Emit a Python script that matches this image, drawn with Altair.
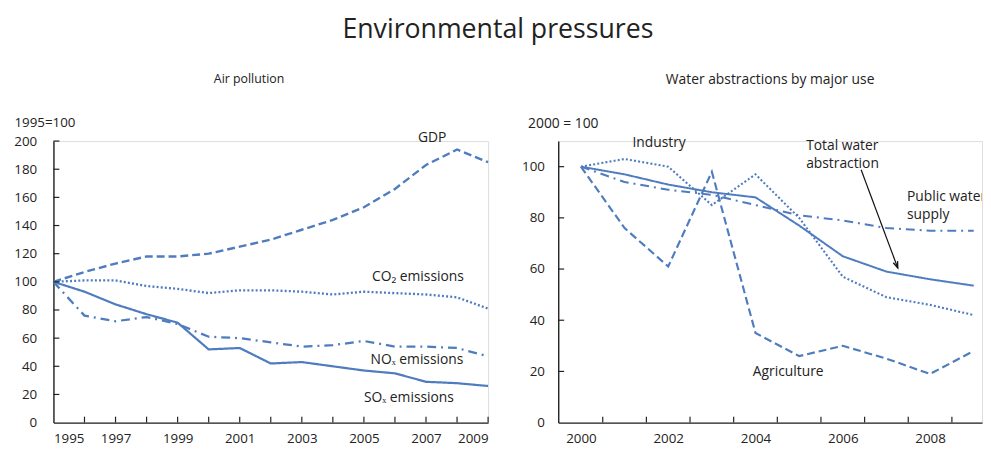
import altair as alt
import pandas as pd

# ---------------- data ----------------
air_years = list(range(1995, 2010))
gdp = [100, 107, 113, 118, 118, 120, 125, 130, 137, 144, 153, 166, 183, 194, 185]
co2 = [100, 101, 101, 97, 95, 92, 94, 94, 93, 91, 93, 92, 91, 89, 81]
nox = [100, 76, 72, 75, 70, 61, 60, 57, 54, 55, 58, 54, 54, 53, 47]
sox = [100, 93, 84, 77, 71, 52, 53, 42, 43, 40, 37, 35, 29, 28, 26]

water_years = list(range(2000, 2010))
total = [100, 97, 93, 90, 88, 77, 65, 59, 56, 53.5]
industry = [100, 103, 100, 85, 97, 80, 57, 49, 46, 42]
public = [100, 94, 91, 89, 85, 81, 79, 76, 75, 75]
agriculture = [100, 76, 61, 98, 35, 26, 30, 25, 19, 28]

air_series = ["GDP", "CO2", "NOx", "SOx"]
water_series = ["Agriculture", "Industry", "Public", "Total"]

left_x_ticks = list(range(1996, 2010))
left_x_labels = list(range(1995, 2010))
left_y_labels = [0, 20, 40, 60, 80, 100, 120, 140, 160, 180, 200]
left_y_ticks = [20, 40, 60, 80, 100, 120, 140, 160, 180, 200]
right_x_ticks = [2000.5, 2001.5, 2002.5, 2003.5, 2004.5, 2005.5, 2006.5, 2007.5, 2008.5]
right_x_labels = [2000, 2002, 2004, 2006, 2008]
right_y_labels = [0, 20, 40, 60, 80, 100]
right_y_ticks = [20, 40, 60, 80, 100]

# annotation labels
air_lab_text = ["GDP", "CO₂ emissions", "NOₓ emissions", "SOₓ emissions"]
air_lab_x = [2007.2, 2006.74, 2006.71, 2006.45]
air_lab_y = [202.5, 103.2, 44.2, 17.5]

water_lab_text = ["Industry", "Total  water", "abstraction", "Public water", "supply", "Agriculture"]
water_lab_x = [2001.79, 2005.16, 2005.16, 2007.47, 2007.47, 2004.75]
water_lab_y = [109.2, 107.9, 101.2, 88.2, 81.2, 19.6]
water_lab_group = ["c", "l", "l", "edge", "edge", "c"]

arrow_x = [2006.42, 2007.26]
arrow_y = [98.8, 60.4]

# ---------------- style ----------------
FONT = "Open Sans"
LINE = "#4f7cbf"
TXT = "#222222"
W1, W2, H = 440, 429, 285

air_df = pd.DataFrame({
    "year": air_years * 4,
    "value": gdp + co2 + nox + sox,
    "series": sum([[s] * len(air_years) for s in air_series], []),
})
water_df = pd.DataFrame({
    "year": water_years * 4,
    "value": agriculture + industry + public + total,
    "series": sum([[s] * len(water_years) for s in water_series], []),
})

dash_range = [[8, 4], [2, 2.2], [9, 5, 2, 5], [1, 0]]
width_range = [2.4, 2.0, 2.4, 2.6]


def ax(**kw):
    base = dict(title=None, grid=False, ticks=False, domainColor=TXT, domainWidth=1.4,
                labelFont=FONT, labelFontSize=13.5, labelColor=TXT, labelOverlap=False)
    base.update(kw)
    return alt.Axis(**base)


# ---------------- left panel ----------------
lx = alt.Scale(domain=[1995, 2009], nice=False, zero=False)
ly = alt.Scale(domain=[0, 200], nice=False)
lx_axis = ax(values=left_x_labels, format="d", labelPadding=9,
             labelExpr="datum.value % 2 == 1 ? datum.label : ''")
ly_axis = ax(values=left_y_labels, labelPadding=17,
             title="1995=100", titleAngle=0, titleX=-40, titleY=-15,
             titleAlign="left", titleBaseline="alphabetic", titleFont=FONT,
             titleFontSize=13.5, titleFontWeight="normal", titleColor=TXT)

left_lines = alt.Chart(air_df).mark_line(color=LINE).encode(
    x=alt.X("year:Q", scale=lx, axis=lx_axis),
    y=alt.Y("value:Q", scale=ly, axis=ly_axis),
    strokeDash=alt.StrokeDash("series:N", scale=alt.Scale(domain=air_series, range=dash_range), legend=None),
    strokeWidth=alt.StrokeWidth("series:N", scale=alt.Scale(domain=air_series, range=width_range), legend=None),
    detail="series:N",
)

left_xt = alt.Chart(pd.DataFrame({"t": left_x_ticks})).mark_rule(color=TXT, strokeWidth=1.2).encode(
    x=alt.X("t:Q", scale=lx, axis=lx_axis), y=alt.value(H), y2=alt.value(H - 6))
left_yt = alt.Chart(pd.DataFrame({"t": left_y_ticks})).mark_rule(color=TXT, strokeWidth=1.2).encode(
    y=alt.Y("t:Q", scale=ly, axis=ly_axis), x=alt.value(0), x2=alt.value(6))

left_labels = alt.Chart(pd.DataFrame({"text": air_lab_text, "x": air_lab_x, "y": air_lab_y})).mark_text(
    font=FONT, fontSize=14, color=TXT, align="center", baseline="middle").encode(
    x=alt.X("x:Q", scale=lx, axis=lx_axis), y=alt.Y("y:Q", scale=ly, axis=ly_axis), text="text:N")

left = alt.layer(left_lines, left_xt, left_yt, left_labels).properties(
    width=W1, height=H,
    title=alt.TitleParams("Air pollution", font=FONT, fontSize=12.5, fontWeight="normal",
                          color=TXT, anchor="middle", offset=30, dx=-22))

# ---------------- right panel ----------------
rx = alt.Scale(domain=[1999.48, 2009.19], nice=False, zero=False)
ry = alt.Scale(domain=[0, 110], nice=False)
rx_axis = ax(values=right_x_labels, format="d", labelPadding=9)
ry_axis = ax(values=right_y_labels, labelPadding=14,
             title="2000 = 100", titleAngle=0, titleX=-31, titleY=-14,
             titleAlign="left", titleBaseline="alphabetic", titleFont=FONT,
             titleFontSize=14, titleFontWeight="normal", titleColor=TXT)

right_lines = alt.Chart(water_df).mark_line(color=LINE).encode(
    x=alt.X("year:Q", scale=rx, axis=rx_axis),
    y=alt.Y("value:Q", scale=ry, axis=ry_axis),
    strokeDash=alt.StrokeDash("series:N", scale=alt.Scale(domain=water_series, range=dash_range), legend=None),
    strokeWidth=alt.StrokeWidth("series:N", scale=alt.Scale(domain=water_series, range=width_range), legend=None),
    detail="series:N",
)

right_xt = alt.Chart(pd.DataFrame({"t": right_x_ticks})).mark_rule(color=TXT, strokeWidth=1.2).encode(
    x=alt.X("t:Q", scale=rx, axis=rx_axis), y=alt.value(H), y2=alt.value(H - 6))
right_yt = alt.Chart(pd.DataFrame({"t": right_y_ticks})).mark_rule(color=TXT, strokeWidth=1.2).encode(
    y=alt.Y("t:Q", scale=ry, axis=ry_axis), x=alt.value(0), x2=alt.value(6))

wl = pd.DataFrame({"text": water_lab_text, "x": water_lab_x, "y": water_lab_y, "grp": water_lab_group})


def wlabels(grp, align, clip):
    return alt.Chart(wl).transform_filter(f"datum.grp == '{grp}'").mark_text(
        font=FONT, fontSize=14, color=TXT, align=align, baseline="middle", clip=clip).encode(
        x=alt.X("x:Q", scale=rx, axis=rx_axis), y=alt.Y("y:Q", scale=ry, axis=ry_axis), text="text:N")


right_labels_c = wlabels("c", "center", False)
right_labels_l = wlabels("l", "left", False)
right_labels_e = wlabels("edge", "left", True)

arrow_df = pd.DataFrame({"x": [arrow_x[0]], "y": [arrow_y[0]], "x2": [arrow_x[1]], "y2": [arrow_y[1]]})
arrow_line = alt.Chart(arrow_df).mark_rule(color="#111", strokeWidth=1.2).encode(
    x=alt.X("x:Q", scale=rx, axis=rx_axis), y=alt.Y("y:Q", scale=ry, axis=ry_axis), x2="x2:Q", y2="y2:Q")
arrow_head = alt.Chart(arrow_df).mark_point(
    shape="M-0.6,-1.7L0,0L0.6,-1.7", filled=False, color="#111", strokeWidth=1.3,
    size=60, angle=339, opacity=1).encode(
    x=alt.X("x2:Q", scale=rx, axis=rx_axis), y=alt.Y("y2:Q", scale=ry, axis=ry_axis))

right = alt.layer(right_lines, right_xt, right_yt, arrow_line, arrow_head,
                  right_labels_c, right_labels_l, right_labels_e).properties(
    width=W2, height=H,
    title=alt.TitleParams("Water abstractions by major use", font=FONT, fontSize=14,
                          fontWeight="normal", color=TXT, anchor="middle", offset=30))

chart = alt.hconcat(left, right, spacing=27).properties(
    title=alt.TitleParams("Environmental pressures", font=FONT, fontSize=27,
                          fontWeight="normal", color=TXT, anchor="middle", offset=29),
    padding={"left": 5, "top": 5, "right": 0, "bottom": 0},
).configure_view(fill="#eef7fc", stroke=None).configure_axis(labelOverlap=False).configure(font=FONT)

chart.save("out.html", embed_options={"renderer": "svg", "actions": False})
